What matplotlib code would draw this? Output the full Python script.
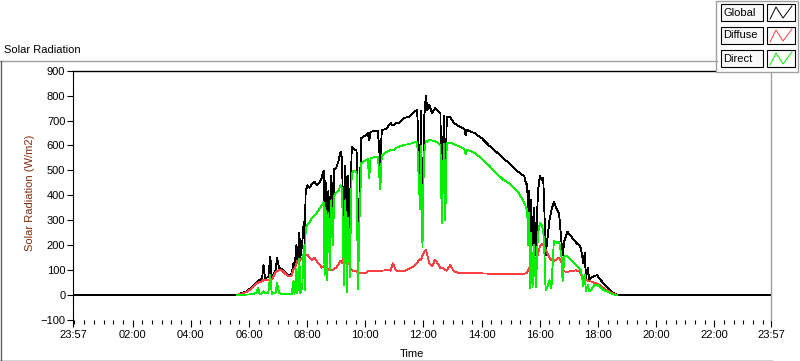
import matplotlib
matplotlib.use("Agg")
import matplotlib.pyplot as plt
import numpy as np
from matplotlib.lines import Line2D
from matplotlib.patches import Rectangle

plt.rcParams["font.family"] = ["Liberation Sans", "DejaVu Sans"]

# readings from the chart (time of day, W/m2)
times = [
    "05:35", "05:45", "05:55", "06:05", "06:15", "06:19", "06:22", "06:27", "06:30", "06:33",
    "06:40", "06:44", "06:47", "06:55", "06:58", "07:02", "07:08", "07:15", "07:22", "07:28",
    "07:32", "07:34", "07:38", "07:40", "07:44", "07:46", "07:50", "07:53", "07:55", "07:57",
    "08:01", "08:05", "08:10", "08:15", "08:20", "08:25", "08:30", "08:34", "08:36", "08:38",
    "08:41", "08:44", "08:47", "08:50", "08:53", "08:56", "09:00", "09:05", "09:09", "09:12",
    "09:16", "09:19", "09:22", "09:25", "09:28", "09:32", "09:37", "09:42", "09:45", "09:48",
    "09:52", "10:00", "10:05", "10:08", "10:11", "10:26", "10:31", "10:34", "10:45", "10:52",
    "10:57", "11:03", "11:10", "11:20", "11:30", "11:40", "11:47", "11:53", "11:55", "11:58",
    "12:01", "12:05", "12:08", "12:12", "12:18", "12:24", "12:30", "12:35", "12:38", "12:42",
    "12:45", "12:48", "12:55", "13:03", "13:15", "13:25", "13:27", "13:30", "13:45", "14:00",
    "14:15", "14:30", "14:45", "15:00", "15:15", "15:28", "15:32", "15:34", "15:36", "15:38",
    "15:40", "15:42", "15:45", "15:48", "15:52", "15:56", "16:00", "16:04", "16:07", "16:09",
    "16:12", "16:15", "16:20", "16:24", "16:29", "16:35", "16:40", "16:45", "16:47", "16:51",
    "16:57", "17:05", "17:15", "17:22", "17:25", "17:30", "17:33", "17:35", "17:39", "17:42",
    "17:46", "17:52", "17:58", "18:05", "18:12", "18:20", "18:28", "18:35", "18:40",
]
global_rad = [
    0, 8, 15, 30, 50, 58, 60, 65, 120, 68,
    72, 155, 68, 100, 150, 110, 105, 90, 75, 85,
    130, 110, 200, 140, 250, 150, 210, 295, 200, 420,
    440, 430, 445, 455, 440, 450, 470, 500, 200, 460,
    160, 420, 180, 480, 300, 505, 510, 540, 575, 545,
    170, 520, 160, 480, 200, 595, 585, 580, 80, 400,
    630, 640, 650, 620, 655, 660, 520, 660, 670, 690,
    680, 690, 690, 710, 715, 735, 742, 460, 740, 250,
    700, 800, 742, 762, 730, 750, 740, 730, 300, 720,
    310, 714, 715, 690, 675, 665, 640, 662, 650, 630,
    600, 575, 548, 524, 495, 477, 444, 445, 300, 420,
    155, 380, 200, 350, 160, 410, 477, 460, 470, 373,
    159, 214, 300, 340, 373, 345, 325, 206, 159, 220,
    254, 235, 210, 198, 187, 127, 170, 67, 110, 62,
    70, 75, 80, 62, 45, 28, 14, 5, 0,
]
diffuse = [
    0, 6, 12, 26, 45, 50, 52, 55, 60, 60,
    62, 62, 62, 90, 95, 99, 99, 85, 75, 78,
    105, 107, 125, 139, 135, 140, 150, 160, 158, 160,
    162, 150, 140, 150, 135, 125, 110, 115, 120, 115,
    110, 100, 105, 100, 100, 105, 110, 125, 139, 130,
    150, 150, 155, 160, 110, 100, 95, 95, 92, 90,
    90, 88, 95, 95, 98, 98, 98, 98, 100, 98,
    127, 100, 95, 95, 105, 115, 130, 147, 140, 160,
    170, 183, 160, 127, 115, 143, 125, 107, 110, 105,
    100, 98, 120, 95, 88, 87, 87, 87, 87, 87,
    86, 86, 85, 85, 85, 86, 88, 90, 100, 110,
    119, 115, 110, 130, 147, 160, 194, 206, 200, 195,
    183, 170, 150, 140, 135, 145, 151, 130, 95, 95,
    93, 97, 99, 95, 80, 70, 65, 60, 58, 56,
    54, 50, 46, 38, 28, 18, 9, 3, 0,
]
direct = [
    0, 1, 2, 3, 8, 30, 5, 6, 15, 8,
    10, 80, 5, 10, 48, 8, 5, 4, 3, 4,
    56, 5, 107, 6, 147, 8, 30, 198, 20, 266,
    285, 290, 310, 320, 330, 345, 360, 372, 80, 350,
    60, 330, 100, 380, 200, 400, 410, 420, 440, 430,
    40, 380, 10, 310, 70, 490, 500, 490, 25, 300,
    530, 540, 545, 470, 550, 555, 425, 560, 575, 583,
    580, 590, 595, 603, 605, 612, 615, 345, 600, 194,
    560, 620, 615, 623, 620, 618, 610, 600, 290, 605,
    300, 610, 612, 605, 595, 585, 565, 583, 571, 548,
    520, 490, 462, 444, 415, 370, 350, 345, 200, 330,
    28, 250, 30, 200, 30, 240, 290, 280, 260, 200,
    20, 28, 60, 28, 218, 210, 214, 150, 56, 159,
    155, 140, 120, 105, 99, 36, 80, 16, 40, 14,
    20, 40, 42, 30, 20, 14, 6, 1, 0,
]

tick_labels = ["23:57", "02:00", "04:00", "06:00", "08:00", "10:00", "12:00",
               "14:00", "16:00", "18:00", "20:00", "22:00", "23:57"]

W, H = 800, 361


def fx(x):
    return x / W


def fy(y):
    return 1 - y / H


def to_min(s):
    h, m = s.split(":")
    return int(h) * 60 + int(m)


start, end = -3, 23 * 60 + 57
x = np.array([start] + [to_min(t) for t in times] + [end], dtype=float)
g = np.array([0] + global_rad + [0], dtype=float)
d = np.array([np.nan] + diffuse + [np.nan], dtype=float)
dr = np.array([np.nan] + direct + [np.nan], dtype=float)

fig = plt.figure(figsize=(8, 3.61), dpi=100)
fig.patch.set_facecolor("white")
ax = fig.add_axes([fx(73), fy(320), fx(771) - fx(73), fy(70.7) - fy(320)])

lw = 0.6
ax.plot(x, g, color="black", lw=lw, antialiased=False)
ax.plot(x, d, color="#ff4040", lw=lw, antialiased=False)
ax.plot(x, dr, color="#00f000", lw=lw, antialiased=False)

ax.set_xlim(start, end)
ax.set_ylim(-100, 900)
ax.set_yticks(range(-100, 901, 100))
ax.tick_params(axis="y", direction="out", length=4, width=0.8, labelsize=8, pad=1.5)

major = [start] + list(range(120, 1321, 120)) + [end]
ax.set_xticks(major)
ax.set_xticklabels(tick_labels)
ax.set_xticks([m for m in range(0, 1440, 20) if m % 120 != 0 or m == 0], minor=True)
ax.tick_params(axis="x", which="major", direction="out", length=5, width=0.8, labelsize=8, pad=2)
ax.tick_params(axis="x", which="minor", direction="out", length=3, width=0.8)

ax.spines["bottom"].set_visible(False)
ax.spines["top"].set_linewidth(1.0)
ax.spines["left"].set_linewidth(0.8)
ax.spines["right"].set_color("#a0a0a0")
ax.spines["right"].set_linewidth(1.0)

# panel frame
fig.add_artist(Line2D([fx(0), fx(717)], [fy(61), fy(61)], transform=fig.transFigure, color="#a0a0a0", lw=1))
fig.add_artist(Line2D([fx(0.5), fx(0.5)], [fy(61), fy(361)], transform=fig.transFigure, color="#606060", lw=1))
fig.add_artist(Line2D([fx(0), fx(772)], [fy(360.5), fy(360.5)], transform=fig.transFigure, color="#202020", lw=1))

fig.text(fx(4), fy(50), "Solar Radiation", fontsize=8, ha="left", va="center")
fig.text(fx(30), fy(193), "Solar Radiation (W/m2)", fontsize=8, rotation=90,
         ha="center", va="center", color="#7f2b0a")
fig.text(fx(412), fy(354), "Time", fontsize=8, ha="center", va="center")

# legend
fig.add_artist(Rectangle((fx(716), fy(72)), fx(798) - fx(716), fy(1) - fy(72),
                         transform=fig.transFigure, facecolor="white", edgecolor="#a0a0a0", lw=1))
names = ["Global", "Diffuse", "Direct"]
colors = ["black", "#ff4040", "#00f000"]
for i, (name, c) in enumerate(zip(names, colors)):
    top = 4 + 23 * i
    bot = top + 17
    fig.add_artist(Rectangle((fx(721), fy(bot)), fx(763) - fx(721), fy(top) - fy(bot),
                             transform=fig.transFigure, facecolor="#f8f8f8", edgecolor="black", lw=0.8))
    fig.text(fx(723), fy((top + bot) / 2), name, fontsize=8, ha="left", va="center")
    fig.add_artist(Rectangle((fx(767), fy(bot)), fx(795) - fx(767), fy(top) - fy(bot),
                             transform=fig.transFigure, facecolor="white", edgecolor="black", lw=0.8))
    zx = [fx(770), fx(776), fx(783), fx(792)]
    zy = [fy(bot - 2), fy(top + 3), fy(bot - 3), fy(top + 2)]
    fig.add_artist(Line2D(zx, zy, transform=fig.transFigure, color=c, lw=0.7))

fig.savefig("out.png", dpi=100)
